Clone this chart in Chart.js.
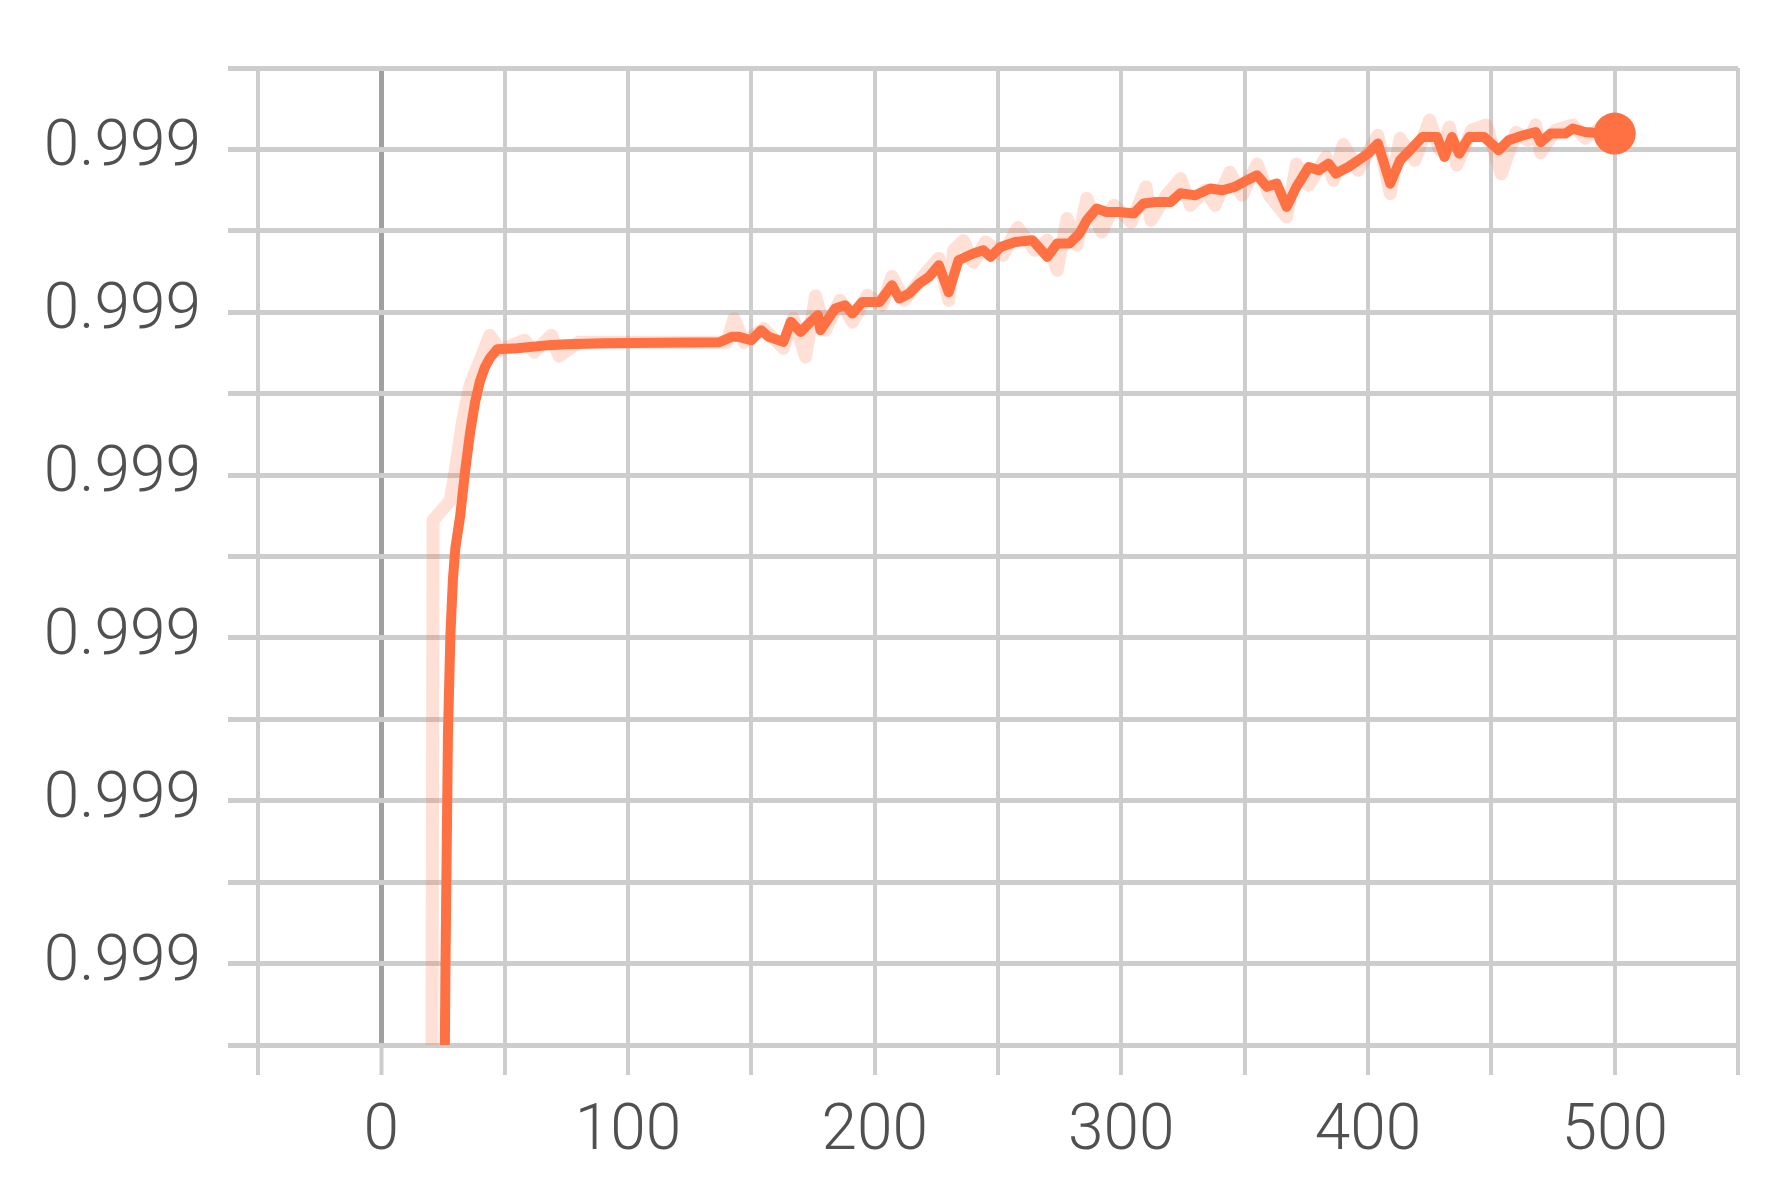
<!DOCTYPE html>
<html lang="en">
<head>
    <meta charset="UTF-8">
    <title>Accuracy</title>
    <script src="https://cdn.jsdelivr.net/npm/chart.js@4"></script>
    <style>
        body {
            margin: 0;
            padding: 0;
            background-color: #fff;
        }
        .chart-box {
            width: 1770px;
            height: 1188px;
        }
    </style>
</head>
<body>
    <div class="chart-box"><canvas id="accChart" width="1770" height="1188"></canvas></div>

    <script>
        // smoothed curve
        const smoothSteps = [
            25, 26, 27, 28, 29, 30, 32, 34, 36, 38, 40, 42, 44, 47, 55, 68, 75, 90, 137,
            142, 145, 150, 154, 157, 163, 166, 170, 174, 177, 178, 184, 188, 191, 195,
            202, 207, 210, 214, 218, 222, 226, 230, 234, 240, 244, 247, 251, 257, 264,
            270, 274, 279, 283, 286, 290, 294, 299, 305, 309, 314, 320, 324, 330, 336,
            341, 346, 351, 355, 359, 363, 367, 371, 376, 380, 384, 387, 392, 396, 400,
            404, 409, 413, 417, 422, 428, 431, 434, 437, 441, 447, 453, 457, 463, 468,
            470, 474, 480, 483, 488, 494, 500
        ];
        const smoothValues = [
            0.9988000, 0.9989991, 0.9991403, 0.9992017, 0.9992355, 0.9992551, 0.9992754, 0.9993030, 0.9993263, 0.9993448, 0.9993577, 0.9993663, 0.9993718, 0.9993773, 0.9993779, 0.9993798, 0.9993804, 0.9993810, 0.9993816,
            0.9993849, 0.9993849, 0.9993828, 0.9993890, 0.9993849, 0.9993818, 0.9993941, 0.9993879, 0.9993941, 0.9993982, 0.9993890, 0.9994023, 0.9994043, 0.9993992, 0.9994063,
            0.9994063, 0.9994166, 0.9994084, 0.9994115, 0.9994176, 0.9994217, 0.9994289, 0.9994123, 0.9994319, 0.9994361, 0.9994381, 0.9994340, 0.9994401, 0.9994432, 0.9994442,
            0.9994340, 0.9994422, 0.9994422, 0.9994483, 0.9994565, 0.9994637, 0.9994616, 0.9994616, 0.9994606, 0.9994668, 0.9994677, 0.9994677, 0.9994731, 0.9994718, 0.9994760,
            0.9994749, 0.9994770, 0.9994811, 0.9994841, 0.9994770, 0.9994790, 0.9994647, 0.9994770, 0.9994892, 0.9994872, 0.9994913, 0.9994852, 0.9994892, 0.9994933, 0.9994974,
            0.9995036, 0.9994790, 0.9994933, 0.9994995, 0.9995076, 0.9995076, 0.9994954, 0.9995076, 0.9994974, 0.9995076, 0.9995076, 0.9994995, 0.9995056, 0.9995087, 0.9995107,
            0.9995044, 0.9995097, 0.9995097, 0.9995128, 0.9995107, 0.9995099, 0.9995097
        ];

        // raw (unsmoothed) values, drawn faint behind
        const rawSteps = [
            20, 21, 28, 30, 33, 36, 40, 44, 48, 58, 62, 69, 72, 80, 140,
            143, 147, 155, 163, 167, 172, 176, 180, 186, 191, 197, 203, 207, 212, 220,
            226, 230, 232, 236, 240, 245, 252, 258, 265, 270, 274, 278, 282, 286, 292,
            297, 304, 310, 312, 318, 324, 328, 334, 338, 344, 349, 355, 360, 367, 371,
            376, 383, 386, 390, 396, 404, 409, 413, 419, 425, 429, 433, 436, 442, 448,
            454, 460, 465, 468, 470, 476, 483, 488, 494, 500
        ];
        const rawValues = [
            0.9986000, 0.9992723, 0.9992846, 0.9993030, 0.9993337, 0.9993552, 0.9993705, 0.9993859, 0.9993767, 0.9993828, 0.9993755, 0.9993859, 0.9993730, 0.9993816, 0.9993816,
            0.9993960, 0.9993816, 0.9993900, 0.9993779, 0.9993963, 0.9993726, 0.9994100, 0.9993890, 0.9994074, 0.9993939, 0.9994105, 0.9994043, 0.9994220, 0.9994074, 0.9994227,
            0.9994332, 0.9994074, 0.9994381, 0.9994440, 0.9994307, 0.9994432, 0.9994350, 0.9994520, 0.9994381, 0.9994442, 0.9994258, 0.9994575, 0.9994412, 0.9994700, 0.9994493,
            0.9994657, 0.9994553, 0.9994770, 0.9994565, 0.9994712, 0.9994821, 0.9994657, 0.9994749, 0.9994657, 0.9994860, 0.9994718, 0.9994910, 0.9994718, 0.9994585, 0.9994910,
            0.9994780, 0.9994954, 0.9994811, 0.9995030, 0.9994872, 0.9995087, 0.9994729, 0.9995067, 0.9994933, 0.9995180, 0.9994995, 0.9995138, 0.9994903, 0.9995118, 0.9995150,
            0.9994850, 0.9995105, 0.9995056, 0.9995150, 0.9994980, 0.9995118, 0.9995150, 0.9995069, 0.9995130, 0.9995099
        ];

        const xTicks = [-50, 0, 50, 100, 150, 200, 250, 300, 350, 400, 450, 500, 550];
        const xTickLabels = ['', '0', '', '100', '', '200', '', '300', '', '400', '', '500', ''];
        const yTicks = [0.99895, 0.99900, 0.99905, 0.99910, 0.99915, 0.99920, 0.99925,
                        0.99930, 0.99935, 0.99940, 0.99945, 0.99950, 0.99955];
        const yTickLabels = ['', '0.999', '', '0.999', '', '0.999', '', '0.999', '', '0.999', '', '0.999', ''];

        const orange = '#ff7043';
        const gridColor = '#cdcdcd';

        Chart.defaults.font.family = 'Roboto, "Open Sans", sans-serif';
        Chart.defaults.font.size = 64;
        Chart.defaults.font.weight = 300;
        Chart.defaults.color = '#505050';

        const toPoints = (xs, ys) => xs.map((x, i) => ({ x: x, y: ys[i] }));

        const ctx = document.getElementById('accChart').getContext('2d');
        const chart = new Chart(ctx, {
            type: 'line',
            data: {
                datasets: [
                    {
                        label: 'smoothed',
                        data: toPoints(smoothSteps, smoothValues),
                        borderColor: orange,
                        backgroundColor: orange,
                        borderWidth: 10,
                        borderJoinStyle: 'round',
                        tension: 0,
                        clip: 0,
                        pointRadius: c => c.dataIndex === smoothSteps.length - 1 ? 21 : 0,
                        pointBorderWidth: 0,
                        pointBackgroundColor: orange,
                        order: 0
                    },
                    {
                        label: 'raw',
                        data: toPoints(rawSteps, rawValues),
                        borderColor: 'rgba(255, 112, 67, 0.22)',
                        borderWidth: 13,
                        borderJoinStyle: 'round',
                        tension: 0,
                        clip: 0,
                        pointRadius: 0,
                        order: 1
                    }
                ]
            },
            options: {
                responsive: false,
                animation: false,
                devicePixelRatio: 1,
                events: [],
                layout: { padding: { top: 68, right: 32, left: 0, bottom: 0 } },
                plugins: {
                    legend: { display: false },
                    tooltip: { enabled: false }
                },
                scales: {
                    x: {
                        type: 'linear',
                        min: -50,
                        max: 550,
                        afterBuildTicks: s => { s.ticks = xTicks.map(v => ({ value: v })); },
                        afterFit: s => { s.height = 143; },
                        border: { display: false },
                        grid: {
                            color: c => (c.tick && c.tick.value === 0) ? '#a0a0a0' : gridColor,
                            lineWidth: c => (c.tick && c.tick.value === 0) ? 5 : 4,
                            tickColor: gridColor,
                            tickWidth: 4,
                            tickLength: 30
                        },
                        ticks: {
                            autoSkip: false,
                            maxRotation: 0,
                            padding: 20,
                            callback: (v, i) => xTickLabels[i]
                        }
                    },
                    y: {
                        type: 'linear',
                        min: 0.99895,
                        max: 0.99955,
                        afterBuildTicks: s => { s.ticks = yTicks.map(v => ({ value: v })); },
                        afterFit: s => { s.width = 258; },
                        border: { display: false },
                        grid: {
                            color: gridColor,
                            lineWidth: 5,
                            tickLength: 30
                        },
                        ticks: {
                            autoSkip: false,
                            padding: 27,
                            callback: (v, i) => yTickLabels[i]
                        }
                    }
                }
            }
        });
    </script>
</body>
</html>
